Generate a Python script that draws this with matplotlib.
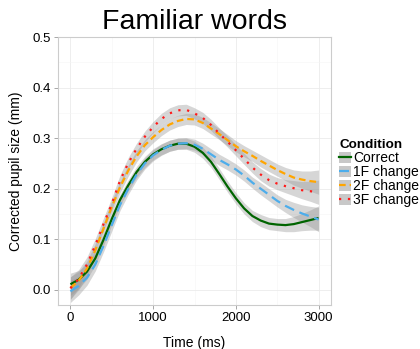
import numpy as np
import matplotlib
matplotlib.use('Agg')
import matplotlib.pyplot as plt
from matplotlib.lines import Line2D
from matplotlib.patches import Patch
from matplotlib.legend_handler import HandlerTuple

plt.rcParams['font.family'] = ['Liberation Sans', 'DejaVu Sans']

# smoothed pupil traces, one value every 100 ms
time_ms = list(range(0, 3001, 100))
correct = [0.011, 0.020, 0.036, 0.062, 0.099, 0.140, 0.178, 0.207, 0.233, 0.253,
           0.268, 0.278, 0.285, 0.289, 0.289, 0.283, 0.271, 0.253, 0.229, 0.204,
           0.181, 0.161, 0.146, 0.137, 0.131, 0.129, 0.128, 0.130, 0.134, 0.138,
           0.142]
change_1f = [-0.003, 0.008, 0.024, 0.050, 0.087, 0.128, 0.168, 0.200, 0.228, 0.250,
             0.266, 0.277, 0.285, 0.289, 0.290, 0.287, 0.279, 0.268, 0.257, 0.248,
             0.238, 0.226, 0.212, 0.200, 0.188, 0.176, 0.166, 0.158, 0.151, 0.145,
             0.139]
change_2f = [0.004, 0.018, 0.042, 0.078, 0.121, 0.164, 0.203, 0.236, 0.264, 0.286,
             0.302, 0.316, 0.327, 0.334, 0.338, 0.337, 0.330, 0.319, 0.308, 0.296,
             0.284, 0.274, 0.265, 0.255, 0.246, 0.237, 0.229, 0.222, 0.218, 0.215,
             0.213]
change_3f = [0.003, 0.022, 0.050, 0.088, 0.130, 0.170, 0.216, 0.251, 0.279, 0.303,
             0.322, 0.338, 0.349, 0.355, 0.356, 0.349, 0.340, 0.326, 0.309, 0.293,
             0.276, 0.259, 0.242, 0.228, 0.217, 0.210, 0.205, 0.201, 0.197, 0.195,
             0.193]
# half width of the confidence band
band = [0.022, 0.018, 0.015, 0.013, 0.012, 0.012, 0.011, 0.011, 0.011, 0.011,
        0.011, 0.011, 0.011, 0.011, 0.011, 0.011, 0.011, 0.011, 0.011, 0.011,
        0.011, 0.011, 0.011, 0.012, 0.012, 0.012, 0.013, 0.015, 0.017, 0.020,
        0.024]

labels = ['Correct', '1F change', '2F change', '3F change']
series = [correct, change_1f, change_2f, change_3f]
colors = ['#006400', '#4DADEB', '#FFA500', '#FF1A1A']
dashes = [None, (4.5, 2.6), (3.0, 1.8), (1.0, 3.0)]

fig = plt.figure(figsize=(4.2, 3.49), dpi=100)
ax = fig.add_axes([58 / 420, 1 - 305 / 349, 273 / 420, 268 / 349])

x = np.array(time_ms)
se = np.array(band)
handles = []
for lab, ys, col, ds in zip(labels, series, colors, dashes):
    ys = np.array(ys)
    ax.fill_between(x, ys - se, ys + se, color='#999999', alpha=0.4,
                    linewidth=0, zorder=2)
    line, = ax.plot(x, ys, color=col, linewidth=1.6, zorder=3,
                    solid_capstyle='butt', dash_capstyle='butt')
    if ds is not None:
        line.set_dashes(ds)
    key_line = Line2D([], [], color=col, linewidth=1.6, dash_capstyle='butt')
    if ds is not None:
        key_line.set_dashes(ds)
    handles.append((Patch(facecolor='#C8C8C8', edgecolor='none'), key_line))

ax.set_xlim(-150, 3150)
ax.set_ylim(-0.03, 0.5)
ax.set_xticks([0, 1000, 2000, 3000])
ax.set_xticks([500, 1500, 2500], minor=True)
ax.set_yticks([0.0, 0.1, 0.2, 0.3, 0.4, 0.5])
ax.set_yticks([0.05, 0.15, 0.25, 0.35, 0.45], minor=True)
ax.set_yticklabels(['0.0', '0.1', '0.2', '0.3', '0.4', '0.5'])
ax.grid(which='major', color='#EBEBEB', linewidth=0.6, zorder=0)
ax.grid(which='minor', color='#F5F5F5', linewidth=0.4, zorder=0)
ax.set_axisbelow(True)
ax.tick_params(which='major', length=3, width=0.6, color='#999999',
               labelsize=9.5, labelcolor='black', pad=2)
ax.tick_params(which='minor', length=0)
for sp in ax.spines.values():
    sp.set_color('#CCCCCC')
    sp.set_linewidth(0.8)

ax.set_xlabel('Time (ms)', fontsize=10, labelpad=9)
ax.set_ylabel('Corrected pupil size (mm)', fontsize=10, labelpad=7)
ax.set_title('Familiar words', fontsize=20.5, pad=6)

leg = fig.legend(handles, labels, title='Condition', loc='upper left',
                 bbox_to_anchor=(339 / 420, 1 - 139 / 349), frameon=False,
                 fontsize=10, title_fontsize=9.7, handlelength=0.85,
                 handleheight=0.85, handletextpad=0.15, labelspacing=0.0,
                 borderaxespad=0, borderpad=0,
                 handler_map={tuple: HandlerTuple(ndivide=1, pad=0)})
leg.get_title().set_fontweight('bold')
leg._legend_box.align = 'left'

fig.savefig('out.png', dpi=100)
